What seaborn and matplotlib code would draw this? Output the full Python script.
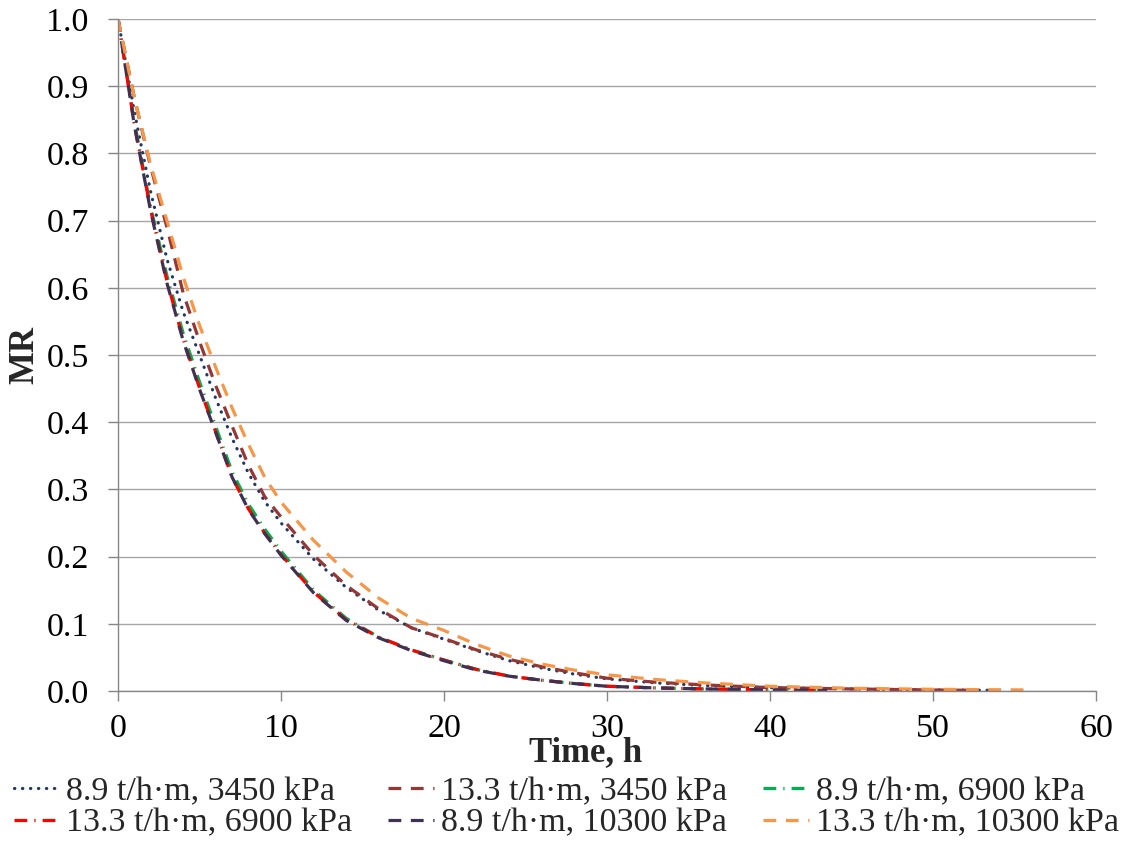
import matplotlib
matplotlib.use("Agg")
import matplotlib.pyplot as plt
from matplotlib.ticker import FormatStrFormatter, MultipleLocator
import seaborn as sns
import pandas as pd

# Drying time (h) and moisture ratio for each feed rate / pressure combination
t_a = [0, 1, 2, 3, 4, 5, 6, 7, 8, 9, 10, 12, 14, 16, 18, 20, 22, 24, 26, 28, 30, 33, 36, 40, 43.5]
mr_89_6900 = [1.0, 0.847, 0.720, 0.618, 0.532, 0.460, 0.393, 0.326, 0.278, 0.241, 0.208, 0.150, 0.108,
              0.080, 0.061, 0.046, 0.032, 0.022, 0.016, 0.011, 0.007, 0.0045, 0.003, 0.0015, 0.001]
mr_133_6900 = [1.0, 0.843, 0.716, 0.610, 0.523, 0.451, 0.385, 0.318, 0.271, 0.235, 0.203, 0.147, 0.106,
               0.080, 0.061, 0.046, 0.032, 0.022, 0.016, 0.011, 0.007, 0.0045, 0.003, 0.0015, 0.001]
mr_89_10300 = [1.0, 0.842, 0.714, 0.607, 0.521, 0.449, 0.384, 0.318, 0.270, 0.234, 0.202, 0.146, 0.105,
               0.079, 0.060, 0.045, 0.031, 0.022, 0.016, 0.011, 0.007, 0.0045, 0.003, 0.0015, 0.001]

t_b = [0, 1, 2, 3, 4, 5, 6, 7, 8, 9, 10, 12, 14, 16, 18, 20, 22, 24, 26, 28, 30, 33, 36, 40, 45, 50, 53.5]
mr_89_3450 = [1.0, 0.862, 0.743, 0.643, 0.564, 0.500, 0.435, 0.376, 0.324, 0.282, 0.250, 0.196, 0.154,
              0.120, 0.094, 0.077, 0.060, 0.045, 0.034, 0.025, 0.018, 0.012, 0.008, 0.005, 0.003, 0.0015, 0.001]

t_c = [0, 1, 2, 3, 4, 5, 6, 7, 8, 9, 10, 12, 14, 16, 18, 20, 22, 24, 26, 28, 30, 33, 36, 40, 45, 50, 52.5]
mr_133_3450 = [1.0, 0.883, 0.780, 0.690, 0.592, 0.520, 0.454, 0.394, 0.336, 0.289, 0.259, 0.202, 0.157,
               0.122, 0.094, 0.078, 0.061, 0.047, 0.036, 0.027, 0.019, 0.013, 0.009, 0.005, 0.003, 0.0015, 0.001]

t_d = [0, 1, 2, 3, 4, 5, 6, 7, 8, 9, 10, 12, 14, 16, 18, 20, 22, 24, 26, 28, 30, 33, 36, 40, 45, 50, 56]
mr_133_10300 = [1.0, 0.883, 0.783, 0.700, 0.616, 0.544, 0.481, 0.421, 0.367, 0.318, 0.281, 0.224, 0.177,
                0.138, 0.108, 0.090, 0.069, 0.052, 0.040, 0.031, 0.024, 0.017, 0.012, 0.007, 0.004, 0.0025, 0.0015]

labels = ["8.9 t/h·m, 3450 kPa", "13.3 t/h·m, 3450 kPa", "8.9 t/h·m, 6900 kPa",
          "13.3 t/h·m, 6900 kPa", "8.9 t/h·m, 10300 kPa", "13.3 t/h·m, 10300 kPa"]
times = [t_b, t_c, t_a, t_a, t_a, t_d]
values = [mr_89_3450, mr_133_3450, mr_89_6900, mr_133_6900, mr_89_10300, mr_133_10300]

colors = ["#1F3864", "#953735", "#00B050", "#FF0000", "#403152", "#F79646"]
dashes = [(0.1, 2.4), (4, 3), (4, 2.2, 0.4, 2.2), (4, 2.2, 0.4, 2.2), (4, 3), (4, 3)]

sns.set_style("white")
plt.rcParams["font.family"] = ["Liberation Serif", "DejaVu Serif"]

fig = plt.figure(figsize=(11.36, 8.41), dpi=100)
ax = fig.add_axes([0.1039, 0.1784, 0.8609, 0.7990])

handles = []
for lab, tt, vv, col, ds in zip(labels, times, values, colors, dashes):
    df = pd.DataFrame({"Time": tt, "MR": vv})
    sns.lineplot(data=df, x="Time", y="MR", ax=ax, color=col, linewidth=2.3,
                 estimator=None, sort=False, label=lab, legend=False)
    line = ax.lines[-1]
    line.set_dashes(ds)
    line.set_dash_capstyle("round" if ds[0] < 1 else "butt")
    handles.append(line)

ax.set_xlim(0, 60)
ax.set_ylim(0, 1.0)
ax.xaxis.set_major_locator(MultipleLocator(10))
ax.yaxis.set_major_locator(MultipleLocator(0.1))
ax.yaxis.set_major_formatter(FormatStrFormatter("%.1f"))

ax.grid(axis="y", color="#A6A6A6", linewidth=1.0)
ax.grid(axis="x", visible=False)
ax.set_axisbelow(True)
for side in ("top", "right"):
    ax.spines[side].set_visible(False)
for side in ("left", "bottom"):
    ax.spines[side].set_color("#868686")
    ax.spines[side].set_linewidth(1.0)

ax.tick_params(axis="both", which="major", direction="out", length=7, width=1.0,
               color="#868686", labelsize=24.5, labelcolor="black")
ax.tick_params(axis="x", bottom=True, pad=9)
ax.tick_params(axis="y", left=True, pad=14)

ax.set_xlabel("Time, h", fontsize=25, fontweight="bold")
ax.xaxis.set_label_coords(0.478, -0.067, transform=ax.transAxes)
ax.xaxis.label.set_va("top")
ax.set_ylabel("MR", fontsize=25, fontweight="bold")
ax.yaxis.set_label_coords(-0.078, 0.5, transform=ax.transAxes)

order = [0, 3, 1, 4, 2, 5]
fig.legend([handles[i] for i in order], [labels[i] for i in order],
           loc="upper left", bbox_to_anchor=(0.012, 0.077), ncol=3,
           frameon=False, fontsize=24.5, handlelength=1.35, handletextpad=0.2,
           columnspacing=1.05, labelspacing=0.02, borderpad=0, borderaxespad=0)

fig.savefig("out.png", dpi=100)
